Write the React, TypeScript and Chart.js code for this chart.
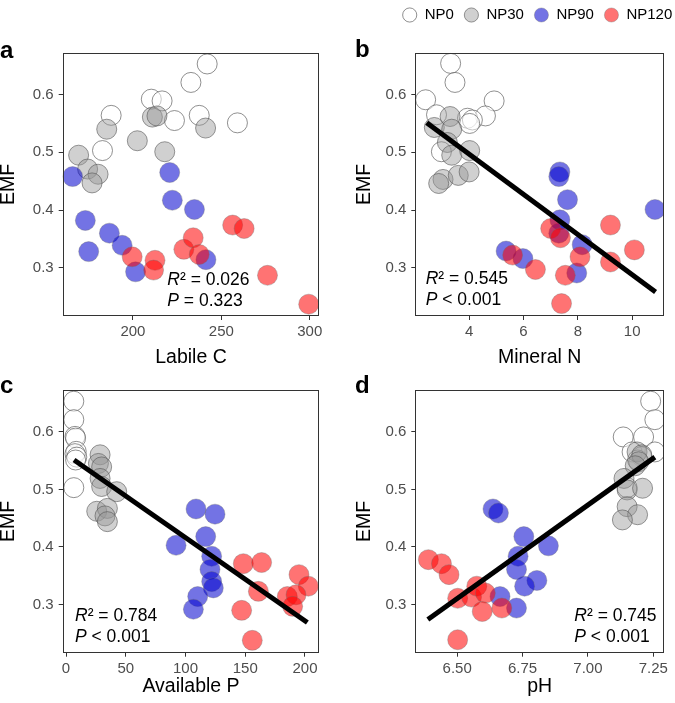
import React, { useEffect, useRef } from 'react';
import { Chart, registerables } from 'chart.js';

Chart.register(...registerables);

const FONT = "'Liberation Sans', Arial, Helvetica, sans-serif";
Chart.defaults.font.family = FONT;

// ---------- shared EMF axis ----------
const emfTicks = [0.3, 0.4, 0.5, 0.6];
const emfRange = [0.2165, 0.6725];
const groupNames = ['NP0', 'NP30', 'NP90', 'NP120'];

// ---------- panel a : Labile C ----------
const aTicks = [200, 250, 300];
const aRange = [160.3, 305.4];
const aNP0 = [[242.0, 0.653], [232.8, 0.621], [210.4, 0.592], [216.5, 0.589], [187.7, 0.564], [237.5, 0.564], [223.5, 0.555], [259.1, 0.551], [182.8, 0.503]];
const aNP30 = [[169.3, 0.495], [185.2, 0.540], [202.5, 0.520], [211.0, 0.561], [213.6, 0.563], [218.0, 0.501], [241.1, 0.542], [174.4, 0.471], [180.3, 0.462], [176.9, 0.447]];
const aNP90 = [[165.9, 0.458], [173.1, 0.382], [175.0, 0.328], [186.7, 0.360], [193.9, 0.339], [201.5, 0.293], [220.8, 0.465], [222.3, 0.417], [234.8, 0.401], [241.3, 0.314]];
const aNP120 = [[199.6, 0.319], [212.5, 0.313], [211.7, 0.296], [228.8, 0.332], [234.1, 0.352], [237.5, 0.323], [256.4, 0.374], [262.9, 0.368], [276.1, 0.287], [299.4, 0.237]];

// ---------- panel b : Mineral N ----------
const bTicks = [4, 6, 8, 10];
const bRange = [2.02, 11.17];
const bNP0 = [[3.32, 0.654], [3.48, 0.621], [2.40, 0.591], [4.92, 0.589], [2.80, 0.565], [4.60, 0.563], [3.94, 0.559], [4.12, 0.556], [4.02, 0.550], [2.98, 0.501]];
const bNP30 = [[2.72, 0.543], [3.30, 0.562], [3.36, 0.540], [3.20, 0.517], [3.36, 0.495], [4.02, 0.503], [3.04, 0.453], [2.88, 0.446], [3.60, 0.460], [4.00, 0.466]];
const bNP90 = [[7.34, 0.466], [7.30, 0.458], [7.62, 0.418], [7.34, 0.383], [10.84, 0.401], [8.16, 0.340], [5.36, 0.329], [5.98, 0.316], [7.96, 0.291], [7.30, 0.360]];
const bNP120 = [[9.20, 0.374], [7.00, 0.368], [7.36, 0.352], [10.08, 0.331], [5.60, 0.322], [8.08, 0.319], [9.20, 0.310], [6.44, 0.297], [7.54, 0.287], [7.40, 0.238]];
const bFit = [[2.44, 0.551], [10.86, 0.258]];

// ---------- panel c : Available P ----------
const cTicks = [0, 50, 100, 150, 200];
const cRange = [-2.8, 212];
const cNP0 = [[6.5, 0.653], [6.5, 0.621], [7.5, 0.592], [8.0, 0.589], [8.5, 0.566], [7.5, 0.562], [9.0, 0.556], [8.0, 0.551], [6.5, 0.503]];
const cNP30 = [[28.5, 0.560], [27.1, 0.545], [29.8, 0.539], [28.5, 0.519], [29.8, 0.505], [42.4, 0.496], [25.7, 0.462], [34.6, 0.467], [32.6, 0.454], [34.6, 0.444]];
const cNP90 = [[92.1, 0.403], [108.8, 0.466], [124.7, 0.457], [116.9, 0.418], [121.9, 0.384], [120.5, 0.361], [121.9, 0.340], [123.3, 0.329], [110.2, 0.314], [106.6, 0.292]];
const cNP120 = [[148.4, 0.371], [163.7, 0.373], [195.0, 0.352], [202.8, 0.332], [161.0, 0.323], [185.2, 0.314], [192.5, 0.317], [189.7, 0.297], [147.0, 0.290], [155.9, 0.238]];
const cFit = [[6.7, 0.551], [202, 0.269]];

// ---------- panel d : pH ----------
const dTicks = [6.5, 6.75, 7.0, 7.25];
const dRange = [6.34, 7.291];
const dNP0 = [[7.240, 0.653], [7.256, 0.621], [7.135, 0.591], [7.213, 0.591], [7.256, 0.565], [7.169, 0.565], [7.206, 0.557], [7.190, 0.551], [7.150, 0.503]];
const dNP30 = [[7.188, 0.565], [7.206, 0.560], [7.194, 0.548], [7.181, 0.541], [7.138, 0.519], [7.150, 0.499], [7.209, 0.502], [7.150, 0.470], [7.190, 0.456], [7.132, 0.447]];
const dNP90 = [[6.637, 0.466], [6.658, 0.459], [6.755, 0.418], [6.849, 0.402], [6.733, 0.384], [6.727, 0.361], [6.805, 0.342], [6.758, 0.332], [6.664, 0.314], [6.727, 0.294]];
const dNP120 = [[6.390, 0.378], [6.440, 0.371], [6.469, 0.352], [6.502, 0.311], [6.555, 0.313], [6.575, 0.332], [6.608, 0.320], [6.596, 0.288], [6.502, 0.239], [6.671, 0.294]];
const dFit = [[6.388, 0.274], [7.256, 0.556]];

// ---------- statistics labels ----------
const statR2 = { a: '0.026', b: '0.545', c: '0.784', d: '0.745' };
const statP = { a: '= 0.323', b: '< 0.001', c: '< 0.001', d: '< 0.001' };

// ---------- styles ----------
const groupStyles = [
  { bg: 'rgba(255,255,255,0.5)', border: 'rgba(85,85,85,0.65)' },
  { bg: 'rgba(150,150,150,0.45)', border: 'rgba(85,85,85,0.6)' },
  { bg: 'rgba(0,0,205,0.55)', border: 'rgba(110,110,110,0.35)' },
  { bg: 'rgba(255,0,0,0.55)', border: 'rgba(110,110,110,0.35)' },
];

const PANELS = [
  { key: 'a', xTitle: 'Labile C', xTicks: aTicks, xRange: aRange, dec: 0, groups: [aNP0, aNP30, aNP90, aNP120], fit: null as number[][] | null,
    geo: { left: 0, top: 0, width: 337, height: 372, padTop: 52.7, padRight: 17.7, yW: 62.7, xH: 56, yTitlePad: -2.7, xTitlePad: 2.6, letterDy: 4.8, sx: 104.6, sy1: -31, sy2: -10.5 }, legend: false },
  { key: 'b', xTitle: 'Mineral N', xTicks: bTicks, xRange: bRange, dec: 0, groups: [bNP0, bNP30, bNP90, bNP120], fit: bFit,
    geo: { left: 355, top: 0, width: 320, height: 372, padTop: 17.7, padRight: 5.7, yW: 60.3, xH: 56, yTitlePad: -1.7, xTitlePad: 2.6, letterDy: 4.3, sx: 10.4, sy1: -32, sy2: -11.2 }, legend: true },
  { key: 'c', xTitle: 'Available P', xTicks: cTicks, xRange: cRange, dec: 0, groups: [cNP0, cNP30, cNP90, cNP120], fit: cFit,
    geo: { left: 0, top: 372, width: 337, height: 331, padTop: 18, padRight: 17.7, yW: 62.7, xH: 50.3, yTitlePad: -2.7, xTitlePad: 4.3, letterDy: 3.4, sx: 12.3, sy1: -31.7, sy2: -11 }, legend: false },
  { key: 'd', xTitle: 'pH', xTicks: dTicks, xRange: dRange, dec: 2, groups: [dNP0, dNP30, dNP90, dNP120], fit: dFit,
    geo: { left: 355, top: 372, width: 320, height: 331, padTop: 18, padRight: 5.7, yW: 60.3, xH: 50.3, yTitlePad: -1.7, xTitlePad: 4.3, letterDy: 3.4, sx: 159, sy1: -32, sy2: -11 }, legend: false },
];

const decoPlugin = {
  id: 'panelDeco',
  afterLayout(chart: any, _args: any, opts: any) {
    const lg = chart.legend;
    if (lg && opts.legendShift) {
      lg.left += opts.legendShift.dx;
      lg.right += opts.legendShift.dx;
      lg.top += opts.legendShift.dy;
      lg.bottom += opts.legendShift.dy;
    }
  },
  afterDatasetsDraw(chart: any) {
    const { ctx, chartArea: ca } = chart;
    ctx.save();
    ctx.strokeStyle = '#333333';
    ctx.lineWidth = 1;
    const l = Math.round(ca.left) + 0.5;
    const t = Math.round(ca.top) + 0.5;
    const r = Math.round(ca.right) - 0.5;
    const b = Math.round(ca.bottom) - 0.5;
    ctx.strokeRect(l, t, r - l, b - t);
    ctx.restore();
  },
  afterDraw(chart: any, _args: any, opts: any) {
    const { ctx, chartArea: ca } = chart;
    ctx.save();
    ctx.fillStyle = '#000';
    ctx.textBaseline = 'alphabetic';
    ctx.textAlign = 'left';
    ctx.font = `bold 24px ${FONT}`;
    ctx.fillText(opts.letter, 0, ca.top + opts.letterDy);
    const fs = 17.5;
    const x0 = ca.left + opts.sx;
    const y1 = ca.bottom + opts.sy1;
    const y2 = ca.bottom + opts.sy2;
    ctx.font = `italic ${fs}px ${FONT}`;
    ctx.fillText('R', x0, y1);
    let w = ctx.measureText('R').width;
    ctx.font = `${fs}px ${FONT}`;
    ctx.fillText('\u00B2 = ' + opts.r2, x0 + w, y1);
    ctx.font = `italic ${fs}px ${FONT}`;
    ctx.fillText('P', x0, y2);
    w = ctx.measureText('P').width;
    ctx.font = `${fs}px ${FONT}`;
    ctx.fillText(' ' + opts.p, x0 + w, y2);
    ctx.restore();
  },
};

function toXY(arr: number[][]) {
  return arr.map(([x, y]) => ({ x, y }));
}

function Panel({ p }: { p: (typeof PANELS)[number] }) {
  const ref = useRef<HTMLCanvasElement | null>(null);
  useEffect(() => {
    if (!ref.current) return;
    const g = p.geo;
    const datasets: any[] = p.groups.map((data, i) => ({
      type: 'scatter',
      label: groupNames[i],
      data: toXY(data),
      backgroundColor: groupStyles[i].bg,
      borderColor: groupStyles[i].border,
      borderWidth: 1,
      pointRadius: 10,
      pointHoverRadius: 10,
      pointStyle: 'circle',
      order: 4 - i,
    }));
    if (p.fit) {
      datasets.push({
        type: 'line',
        label: 'fit',
        data: toXY(p.fit),
        borderColor: '#000000',
        borderWidth: 5,
        pointRadius: 0,
        showLine: true,
        fill: false,
        order: 0,
      });
    }
    const chart = new Chart(ref.current, {
      type: 'scatter',
      data: { datasets },
      plugins: [decoPlugin],
      options: {
        animation: false,
        responsive: false,
        maintainAspectRatio: false,
        events: [],
        layout: { padding: { left: 0, top: g.padTop, right: g.padRight, bottom: 0 } },
        scales: {
          x: {
            type: 'linear',
            position: 'bottom',
            min: p.xRange[0],
            max: p.xRange[1],
            afterBuildTicks: (s: any) => { s.ticks = p.xTicks.map((v) => ({ value: v })); },
            afterFit: (s: any) => { s.height = g.xH; },
            ticks: {
              autoSkip: false,
              maxRotation: 0,
              padding: 3,
              color: '#4d4d4d',
              font: { size: 15 },
              callback: (v: any) => Number(v).toFixed(p.dec),
            },
            grid: { drawOnChartArea: false, drawTicks: true, tickLength: 4, color: '#333333', lineWidth: 1 },
            border: { display: false },
            title: { display: true, text: p.xTitle, color: '#000', font: { size: 19.5 }, padding: { top: 0, bottom: g.xTitlePad } },
          },
          y: {
            type: 'linear',
            position: 'left',
            min: emfRange[0],
            max: emfRange[1],
            afterBuildTicks: (s: any) => { s.ticks = emfTicks.map((v) => ({ value: v })); },
            afterFit: (s: any) => { s.width = g.yW; },
            ticks: {
              autoSkip: false,
              padding: 5,
              color: '#4d4d4d',
              font: { size: 15 },
              callback: (v: any) => Number(v).toFixed(1),
            },
            grid: { drawOnChartArea: false, drawTicks: true, tickLength: 4, color: '#333333', lineWidth: 1 },
            border: { display: false },
            title: { display: true, text: 'EMF', color: '#000', font: { size: 19.5 }, padding: { top: g.yTitlePad, bottom: 0 } },
          },
        },
        plugins: {
          tooltip: { enabled: false },
          legend: p.legend
            ? {
                display: true,
                position: 'top',
                align: 'end',
                labels: {
                  usePointStyle: true,
                  boxWidth: 15,
                  boxHeight: 10,
                  padding: 10,
                  color: '#000',
                  font: { size: 15 },
                  filter: (item: any) => item.datasetIndex < 4,
                  sort: (a: any, b: any) => a.datasetIndex - b.datasetIndex,
                },
              }
            : { display: false },
          panelDeco: {
            letter: p.key,
            letterDy: g.letterDy,
            sx: g.sx,
            sy1: g.sy1,
            sy2: g.sy2,
            r2: (statR2 as any)[p.key],
            p: (statP as any)[p.key],
            legendShift: p.legend ? { dx: 13, dy: -20.2 } : null,
          },
        } as any,
      } as any,
    });
    return () => chart.destroy();
  }, [p]);
  const g = p.geo;
  return (
    <canvas
      ref={ref}
      width={g.width}
      height={g.height}
      style={{ position: 'absolute', left: g.left, top: g.top, width: g.width, height: g.height }}
    />
  );
}

export default function App() {
  return (
    <div style={{ position: 'fixed', left: 0, top: 0, width: 675, height: 703, background: '#ffffff', overflow: 'hidden' }}>
      {PANELS.map((p) => (
        <Panel key={p.key} p={p} />
      ))}
    </div>
  );
}
